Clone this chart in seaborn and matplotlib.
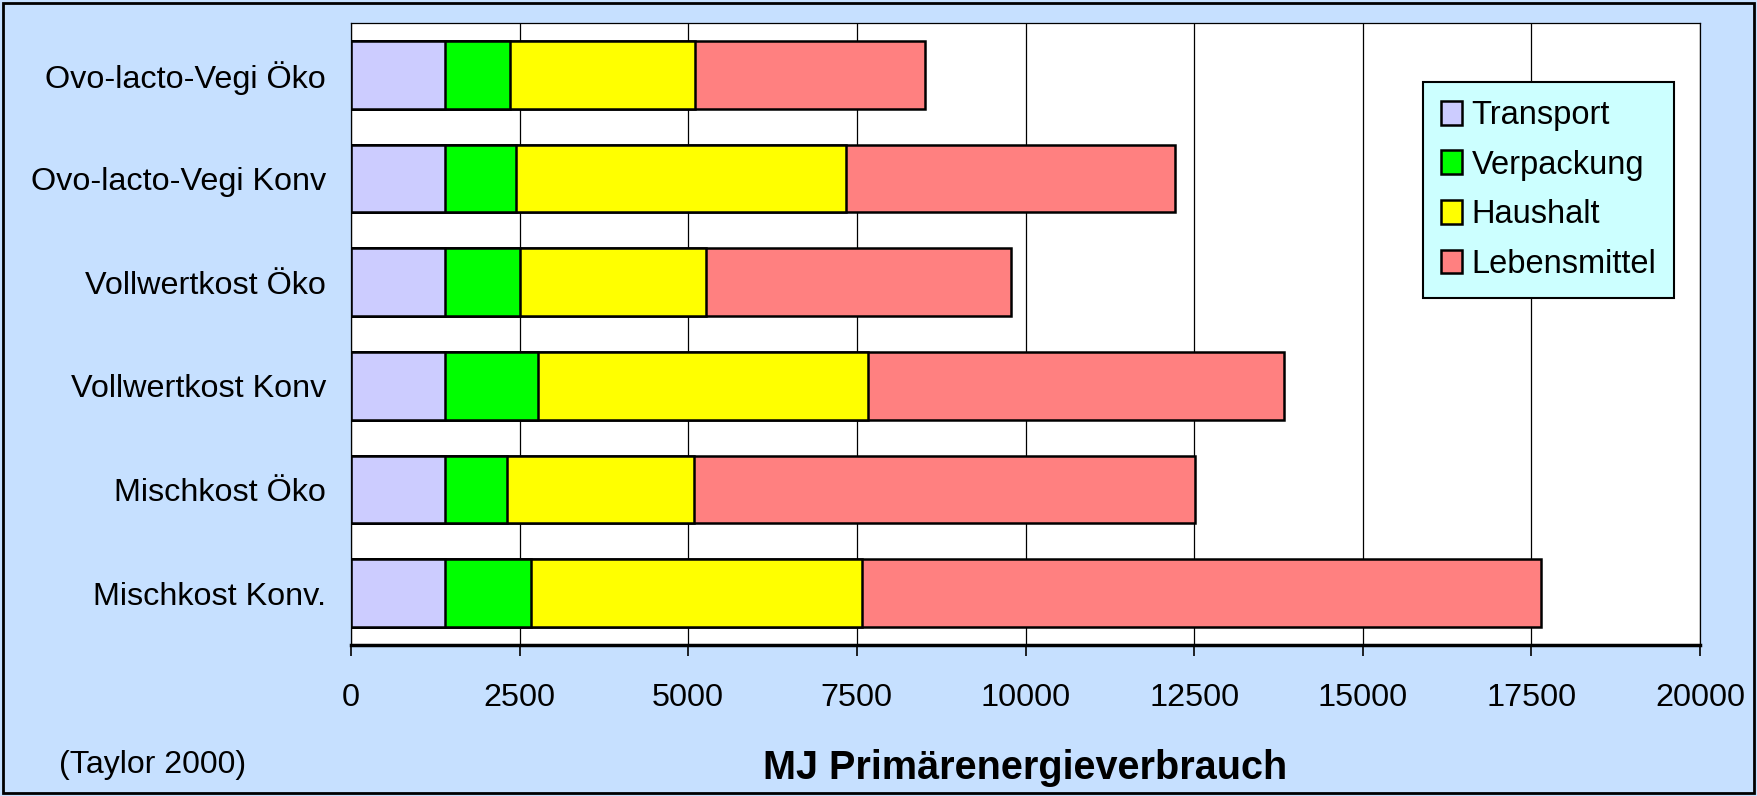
import pandas as pd
import numpy as np
import matplotlib
matplotlib.use("Agg")
import matplotlib.pyplot as plt
import seaborn as sns
from matplotlib.patches import Rectangle

# Daten (MJ Primärenergie)
kategorien = ["Ovo-lacto-Vegi Öko", "Ovo-lacto-Vegi Konv", "Vollwertkost Öko",
              "Vollwertkost Konv", "Mischkost Öko", "Mischkost Konv."]
transport = [1400, 1400, 1400, 1400, 1400, 1400]
verpackung = [955, 1045, 1100, 1370, 920, 1275]
haushalt = [2750, 4890, 2760, 4890, 2760, 4895]
lebensmittel = [3400, 4885, 4530, 6170, 7440, 10080]

serien = ["Transport", "Verpackung", "Haushalt", "Lebensmittel"]
farben = {"Transport": "#CCCCFF", "Verpackung": "#00FF00",
          "Haushalt": "#FFFF00", "Lebensmittel": "#FF8080"}

df = pd.DataFrame({"Kategorie": kategorien, "Transport": transport,
                   "Verpackung": verpackung, "Haushalt": haushalt,
                   "Lebensmittel": lebensmittel})
# kumulierte Summen für gestapelte Balken
kum = df[serien].cumsum(axis=1)
kum["Kategorie"] = df["Kategorie"]

hintergrund = "#C6E0FF"
plt.rcParams['font.family'] = ['Liberation Sans', 'DejaVu Sans']

fig = plt.figure(figsize=(17.57, 7.96), dpi=100, facecolor=hintergrund)
ax = fig.add_axes([351/1757, 1-645/796, (1700-351)/1757, (645-23)/796])
ax.set_facecolor("white")

# größte Summe zuerst zeichnen, dann überlagern
for s in serien[::-1]:
    sns.barplot(data=kum, x=s, y="Kategorie", order=kategorien, orient="h",
                color=farben[s], saturation=1, width=0.65, edgecolor="black",
                linewidth=1.8, ax=ax, label=s)

h, l = ax.get_legend_handles_labels()
lookup = dict(zip(l, h))
leg = ax.legend([lookup[s] for s in serien], serien, loc="upper right",
                bbox_to_anchor=(0.981, 0.905), borderaxespad=0, fontsize=23.5,
                frameon=True, fancybox=False, facecolor="#CCFFFF", framealpha=1,
                edgecolor="black", handlelength=0.65, handleheight=0.75,
                handletextpad=0.3, labelspacing=0.57, borderpad=0.55)
leg.get_frame().set_linewidth(1.5)

ax.set_xlim(0, 20000)
ax.set_ylim(5.5, -0.5)
ax.set_xticks(np.arange(0, 20001, 2500))
ax.xaxis.grid(True, color="black", linewidth=0.9)
ax.yaxis.grid(False)
ax.set_axisbelow(True)
ax.tick_params(axis="x", length=8, width=1.2, pad=19, labelsize=23.3)
ax.tick_params(axis="y", length=0, pad=18, labelsize=23.3)
ax.set_ylabel("")
ax.set_xlabel("MJ Primärenergieverbrauch", fontsize=28.5, fontweight="bold", labelpad=26)

for sp in ["left", "top", "right"]:
    ax.spines[sp].set_linewidth(0.9)
    ax.spines[sp].set_color("black")
ax.spines["bottom"].set_linewidth(2.5)

fig.text(59/1757, 1-765/796, "(Taylor 2000)", fontsize=23, va="center", ha="left")
fig.patches.append(Rectangle((3/1757, 3/796), 1-6/1757, 1-6/796, transform=fig.transFigure,
                             fill=False, edgecolor="black", linewidth=2))

fig.savefig("out.png", dpi=100, facecolor=hintergrund)
